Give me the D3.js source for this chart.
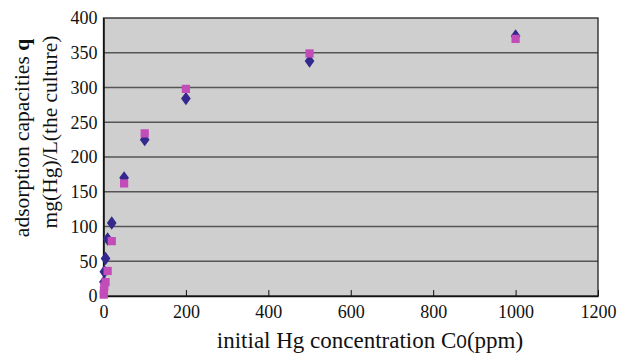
<!DOCTYPE html>
<html>
<head>
<meta charset="utf-8">
<script src="https://cdn.jsdelivr.net/npm/d3@7"></script>
<style>
  body { margin: 0; background: #fff; }
  svg { display: block; }
</style>
</head>
<body>
<div id="chart"></div>
<script>
// 系列1（菱形）
var conc1 = [1, 2, 5, 10, 20, 50, 100, 200, 500, 1000];
var q1 = [20, 35, 54, 82, 105, 170, 225, 284, 338, 374];

// 系列2（方形）
var conc2 = [0.5, 1, 2, 5, 10, 20, 50, 100, 200, 500, 1000];
var q2 = [2, 8, 14, 20, 36, 79, 162, 234, 298, 349, 370];

// 刻度
var xTicks = [0, 200, 400, 600, 800, 1000, 1200];
var yTicks = [0, 50, 100, 150, 200, 250, 300, 350, 400];

var data1 = conc1.map(function(c, i) { return {x: c, y: q1[i]}; });
var data2 = conc2.map(function(c, i) { return {x: c, y: q2[i]}; });

var serif = "'Liberation Serif', 'Times New Roman', serif";

// 画布
var W = 627, H = 355;
var margin = {top: 18, right: 29, bottom: 59, left: 103.5};
var width = W - margin.left - margin.right;
var height = H - margin.top - margin.bottom;

var svg = d3.select("#chart")
    .append("svg")
    .attr("width", W)
    .attr("height", H);

var g = svg.append("g")
    .attr("transform", "translate(" + margin.left + "," + margin.top + ")");

var xScale = d3.scaleLinear().domain([0, 1200]).range([0, width]);
var yScale = d3.scaleLinear().domain([0, 400]).range([height, 0]);

// 背景
g.append("rect")
    .attr("width", width)
    .attr("height", height)
    .attr("fill", "#cfcfcf");

// 网格线
g.selectAll(".grid")
    .data(yTicks.slice(1, -1))
    .enter().append("line")
    .attr("x1", 0)
    .attr("x2", width)
    .attr("y1", function(d) { return yScale(d); })
    .attr("y2", function(d) { return yScale(d); })
    .attr("stroke", "#555")
    .attr("stroke-width", 1.3);

// 边框
g.append("rect")
    .attr("width", width)
    .attr("height", height)
    .attr("fill", "none")
    .attr("stroke", "#222")
    .attr("stroke-width", 1.3);

// x轴
var xAxis = d3.axisBottom(xScale)
    .tickValues(xTicks)
    .tickFormat(d3.format("d"))
    .tickSizeInner(-6)
    .tickSizeOuter(0)
    .tickPadding(9);

var xg = g.append("g")
    .attr("transform", "translate(0," + height + ")")
    .call(xAxis);
xg.select(".domain").attr("stroke", "#111").attr("stroke-width", 1.5);
xg.selectAll(".tick line").attr("stroke", "#111");
xg.selectAll("text")
    .style("font-family", serif)
    .attr("font-size", 18)
    .attr("fill", "#111");

// y轴
var yAxis = d3.axisLeft(yScale)
    .tickValues(yTicks)
    .tickFormat(d3.format("d"))
    .tickSize(0)
    .tickPadding(6);

var yg = g.append("g").call(yAxis);
yg.select(".domain").attr("stroke", "#111").attr("stroke-width", 1.5);
yg.selectAll("text")
    .style("font-family", serif)
    .attr("font-size", 18)
    .attr("fill", "#111");

// 菱形点
var diamond = d3.symbol().type(d3.symbolDiamond).size(52);
g.selectAll(".d1")
    .data(data1)
    .enter().append("path")
    .attr("d", diamond)
    .attr("transform", function(d) {
        return "translate(" + xScale(d.x) + "," + yScale(d.y) + ") scale(1.25,1)";
    })
    .attr("fill", "#33288c");

// 方形点
var square = d3.symbol().type(d3.symbolSquare).size(68);
g.selectAll(".d2")
    .data(data2)
    .enter().append("path")
    .attr("d", square)
    .attr("transform", function(d) {
        return "translate(" + xScale(d.x) + "," + yScale(d.y) + ")";
    })
    .attr("fill", "#c24cb8");

// x轴标题
var xt = svg.append("text")
    .attr("x", 370)
    .attr("y", 348)
    .attr("text-anchor", "middle")
    .style("font-family", serif)
    .attr("font-size", 23)
    .attr("fill", "#111");
xt.append("tspan").text("initial Hg concentration C");
xt.append("tspan").style("font-family", "'Liberation Sans', Arial, sans-serif").attr("font-size", 19).text("0");
xt.append("tspan").text("(ppm)");

// y轴标题
var yt1 = svg.append("text")
    .attr("transform", "translate(29,138) rotate(-90)")
    .attr("text-anchor", "middle")
    .style("font-family", serif)
    .attr("font-size", 21.5)
    .attr("fill", "#111");
yt1.append("tspan").text("adsorption capacities ");
yt1.append("tspan").attr("font-weight", "bold").text("q");

svg.append("text")
    .attr("transform", "translate(57,132) rotate(-90)")
    .attr("text-anchor", "middle")
    .style("font-family", serif)
    .attr("font-size", 21.5)
    .attr("fill", "#111")
    .text("mg(Hg)/L(the culture)");
</script>
</body>
</html>
